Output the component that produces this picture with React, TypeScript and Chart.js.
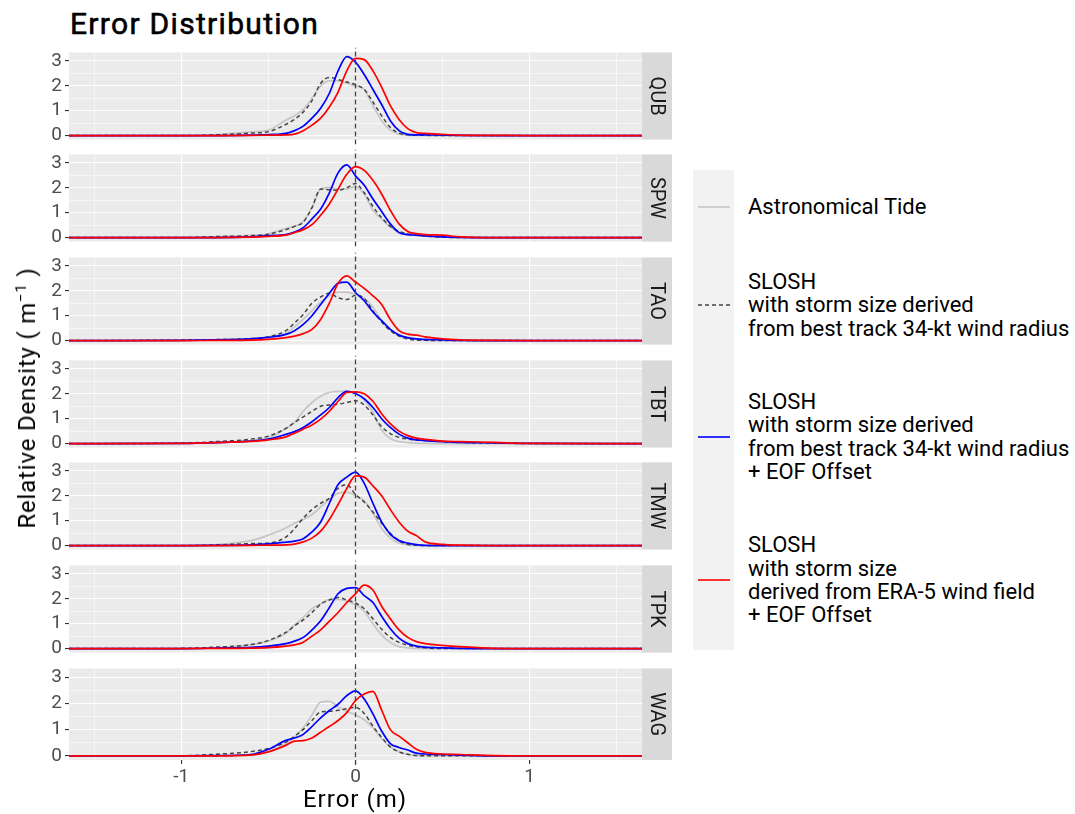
import React, { useEffect, useRef } from "react";
import { Chart, registerables } from "chart.js";
Chart.register(...registerables);

// ---------- data ----------
const ERROR_X = [-1.645, -1.0, -0.8, -0.6, -0.5, -0.4, -0.35, -0.3, -0.25, -0.2, -0.15, -0.1, -0.05, 0, 0.05, 0.1, 0.15, 0.2, 0.25, 0.3, 0.35, 0.4, 0.5, 0.6, 0.8, 1.0, 1.645];

const STATIONS = ["QUB", "SPW", "TAO", "TBT", "TMW", "TPK", "WAG"];

const QUB_TIDE = [0, 0, 0.04, 0.15, 0.22, 0.62, 0.8, 1.05, 1.5, 2.0, 2.2, 2.2, 2.1, 2.0, 1.85, 1.2, 0.6, 0.22, 0.06, 0.02, 0.01, 0, 0, 0, 0, 0, 0];
const QUB_SLOSH = [0, 0, 0.03, 0.1, 0.16, 0.45, 0.65, 0.95, 1.4, 2.1, 2.33, 2.25, 2.15, 2.04, 1.85, 1.35, 0.8, 0.33, 0.1, 0.03, 0.01, 0.01, 0, 0, 0, 0, 0];
const QUB_EOF = [0, 0, 0, 0.02, 0.04, 0.09, 0.2, 0.38, 0.7, 1.1, 1.7, 2.6, 3.17, 2.95, 2.45, 1.85, 1.25, 0.6, 0.2, 0.05, 0.03, 0.03, 0.02, 0.01, 0, 0, 0];
const QUB_ERA5 = [0, 0, 0, 0.01, 0.02, 0.03, 0.06, 0.2, 0.42, 0.7, 1.15, 1.75, 2.6, 3.1, 3.05, 2.6, 1.95, 1.2, 0.65, 0.28, 0.12, 0.09, 0.05, 0.02, 0.01, 0, 0];

const SPW_TIDE = [0, 0, 0.03, 0.09, 0.15, 0.37, 0.45, 0.65, 1.2, 1.95, 2.02, 1.95, 1.95, 2.05, 1.75, 1.1, 0.75, 0.42, 0.2, 0.12, 0.08, 0.05, 0.02, 0, 0, 0, 0];
const SPW_SLOSH = [0, 0, 0.04, 0.08, 0.14, 0.32, 0.45, 0.62, 1.2, 1.95, 1.92, 1.9, 2.0, 2.17, 1.8, 1.25, 0.8, 0.45, 0.25, 0.15, 0.1, 0.06, 0.02, 0, 0, 0, 0];
const SPW_EOF = [0, 0, 0, 0.03, 0.08, 0.12, 0.22, 0.4, 0.75, 1.15, 1.8, 2.6, 2.92, 2.48, 2.1, 1.55, 1.05, 0.55, 0.2, 0.12, 0.1, 0.07, 0.03, 0.01, 0, 0, 0];
const SPW_ERA5 = [0, 0, 0, 0.02, 0.05, 0.1, 0.2, 0.32, 0.52, 0.9, 1.35, 1.95, 2.54, 2.85, 2.7, 2.3, 1.75, 1.1, 0.55, 0.25, 0.16, 0.12, 0.1, 0.03, 0, 0, 0];

const TAO_TIDE = [0, 0.01, 0.03, 0.08, 0.15, 0.3, 0.55, 0.85, 1.2, 1.55, 1.8, 1.95, 1.95, 1.85, 1.7, 1.35, 0.8, 0.45, 0.22, 0.1, 0.04, 0.02, 0, 0, 0, 0, 0];
const TAO_SLOSH = [0, 0.02, 0.04, 0.08, 0.15, 0.4, 0.71, 1.05, 1.5, 1.75, 1.9, 1.72, 1.65, 1.82, 1.7, 1.2, 0.75, 0.4, 0.18, 0.06, 0.02, 0.01, 0, 0, 0, 0, 0];
const TAO_EOF = [0, 0.01, 0.03, 0.07, 0.13, 0.25, 0.4, 0.65, 1.0, 1.45, 1.9, 2.3, 2.35, 1.93, 1.6, 1.15, 0.8, 0.45, 0.22, 0.12, 0.07, 0.05, 0.03, 0.01, 0, 0, 0];
const TAO_ERA5 = [0, 0, 0.01, 0.02, 0.05, 0.12, 0.18, 0.28, 0.45, 0.85, 1.5, 2.3, 2.6, 2.35, 2.1, 1.8, 1.45, 0.85, 0.4, 0.26, 0.22, 0.15, 0.07, 0.03, 0.01, 0, 0];

const TBT_TIDE = [0, 0.01, 0.04, 0.12, 0.25, 0.6, 0.85, 1.3, 1.65, 1.9, 2.05, 2.1, 2.1, 2.0, 1.75, 1.25, 0.55, 0.2, 0.08, 0.04, 0.02, 0.01, 0, 0, 0, 0, 0];
const TBT_SLOSH = [0, 0.02, 0.08, 0.18, 0.3, 0.61, 0.85, 1.07, 1.3, 1.5, 1.55, 1.58, 1.65, 1.72, 1.55, 1.15, 0.68, 0.4, 0.25, 0.18, 0.14, 0.12, 0.08, 0.05, 0.02, 0, 0];
const TBT_EOF = [0, 0.01, 0.04, 0.1, 0.18, 0.37, 0.48, 0.65, 0.88, 1.15, 1.45, 1.85, 2.1, 2.01, 1.8, 1.45, 1.0, 0.65, 0.38, 0.22, 0.15, 0.12, 0.08, 0.05, 0.03, 0.01, 0];
const TBT_ERA5 = [0, 0.01, 0.04, 0.09, 0.15, 0.27, 0.42, 0.58, 0.75, 0.98, 1.3, 1.7, 2.05, 2.08, 2.0, 1.7, 1.2, 0.8, 0.5, 0.32, 0.22, 0.17, 0.1, 0.08, 0.05, 0.01, 0];

const TMW_TIDE = [0, 0, 0.04, 0.2, 0.42, 0.71, 0.9, 1.05, 1.25, 1.55, 1.85, 2.1, 2.15, 2.0, 1.8, 1.3, 0.7, 0.3, 0.1, 0.03, 0.01, 0, 0, 0, 0, 0, 0];
const TMW_SLOSH = [0, 0, 0.03, 0.08, 0.1, 0.34, 0.68, 1.1, 1.45, 1.7, 1.9, 2.3, 2.45, 2.05, 1.75, 1.35, 0.9, 0.5, 0.2, 0.05, 0.01, 0, 0, 0, 0, 0, 0];
const TMW_EOF = [0, 0, 0.01, 0.03, 0.07, 0.14, 0.18, 0.28, 0.55, 0.95, 1.7, 2.45, 2.75, 2.95, 2.5, 1.7, 0.95, 0.45, 0.2, 0.1, 0.04, 0.01, 0, 0, 0, 0, 0];
const TMW_ERA5 = [0, 0, 0, 0.01, 0.02, 0.03, 0.06, 0.15, 0.3, 0.58, 1.05, 1.65, 2.29, 2.8, 2.75, 2.4, 2.0, 1.45, 0.95, 0.58, 0.4, 0.15, 0.05, 0.02, 0, 0, 0];

const TPK_TIDE = [0, 0, 0.03, 0.16, 0.3, 0.62, 0.95, 1.25, 1.6, 1.8, 1.98, 1.98, 1.9, 1.77, 1.5, 1.0, 0.55, 0.25, 0.08, 0.03, 0.01, 0, 0, 0, 0, 0, 0];
const TPK_SLOSH = [0, 0.01, 0.06, 0.16, 0.33, 0.65, 0.91, 1.15, 1.45, 1.78, 1.95, 2.05, 1.95, 1.83, 1.6, 1.2, 0.78, 0.45, 0.25, 0.14, 0.07, 0.03, 0, 0, 0, 0, 0];
const TPK_EOF = [0, 0, 0.02, 0.05, 0.1, 0.2, 0.3, 0.45, 0.75, 1.12, 1.65, 2.2, 2.42, 2.45, 2.13, 1.85, 1.3, 0.8, 0.42, 0.2, 0.1, 0.06, 0.03, 0.01, 0, 0, 0];
const TPK_ERA5 = [0, 0, 0.01, 0.02, 0.04, 0.1, 0.15, 0.26, 0.5, 0.75, 1.1, 1.45, 1.85, 2.2, 2.55, 2.35, 1.7, 1.2, 0.75, 0.45, 0.28, 0.2, 0.13, 0.08, 0.01, 0, 0];

const WAG_TIDE = [0, 0, 0.01, 0.05, 0.16, 0.46, 0.71, 1.07, 1.56, 2.05, 2.08, 1.87, 1.7, 1.56, 1.38, 1.07, 0.65, 0.34, 0.16, 0.05, 0.01, 0, 0, 0, 0, 0, 0];
const WAG_SLOSH = [0, 0, 0.06, 0.16, 0.28, 0.52, 0.75, 1.01, 1.35, 1.68, 1.7, 1.74, 1.8, 1.85, 1.62, 1.13, 0.71, 0.34, 0.15, 0.06, 0.01, 0, 0, 0, 0, 0, 0];
const WAG_EOF = [0, 0, 0.01, 0.05, 0.25, 0.59, 0.68, 0.82, 1.12, 1.45, 1.73, 1.97, 2.3, 2.48, 2.17, 1.6, 0.95, 0.47, 0.32, 0.22, 0.1, 0.07, 0.05, 0.03, 0, 0, 0];
const WAG_ERA5 = [0, 0, 0, 0.03, 0.15, 0.4, 0.56, 0.58, 0.68, 0.9, 1.12, 1.35, 1.65, 2.11, 2.36, 2.46, 1.75, 1.0, 0.75, 0.5, 0.25, 0.13, 0.07, 0.05, 0.01, 0, 0];

const TIDE = [QUB_TIDE, SPW_TIDE, TAO_TIDE, TBT_TIDE, TMW_TIDE, TPK_TIDE, WAG_TIDE];
const SLOSH = [QUB_SLOSH, SPW_SLOSH, TAO_SLOSH, TBT_SLOSH, TMW_SLOSH, TPK_SLOSH, WAG_SLOSH];
const EOF = [QUB_EOF, SPW_EOF, TAO_EOF, TBT_EOF, TMW_EOF, TPK_EOF, WAG_EOF];
const ERA5 = [QUB_ERA5, SPW_ERA5, TAO_ERA5, TBT_ERA5, TMW_ERA5, TPK_ERA5, WAG_ERA5];

const X_TICKS = [-1.5, -1, -0.5, 0, 0.5, 1, 1.5];
const Y_TICKS = [0, 0.5, 1, 1.5, 2, 2.5, 3];
const X_MIN = -1.645;
const X_MAX = 1.645;
const Y_MIN = -0.16;
const Y_MAX = 3.34;
const ZERO_LINE_X = 0;

const LEGEND_LABELS = [
  ["Astronomical Tide"],
  ["SLOSH", "with storm size derived", "from best track 34-kt wind radius"],
  ["SLOSH", "with storm size derived", "from best track 34-kt wind radius", "+ EOF Offset"],
  ["SLOSH", "with storm size", "derived from ERA-5 wind field", "+ EOF Offset"],
];

// ---------- styling / layout ----------
const FONT = "Roboto, 'DejaVu Sans', sans-serif";
const PANEL_TOPS = [48, 150, 253, 356, 458, 561, 664];
const PANEL_H = 96;
const PAD = 10;
const CANVAS_W = 676;
const Y_AXIS_W = 69;
const STRIP_W = 30;
const RIGHT_PAD = 34;
const X_AXIS_H = 40;

const isInt = (v: number) => Math.abs(v - Math.round(v)) < 1e-9;

const panelPlugin = {
  id: "panelDeco",
  beforeDraw(chart: any) {
    const { ctx, chartArea } = chart;
    const { left, top, right, bottom } = chartArea;
    ctx.save();
    ctx.fillStyle = "#EBEBEB";
    ctx.fillRect(left, top, right - left, bottom - top);
    ctx.restore();
  },
  afterDraw(chart: any, _args: any, opts: any) {
    const { ctx, chartArea } = chart;
    const { right, top, bottom } = chartArea;
    ctx.save();
    ctx.fillStyle = "#D9D9D9";
    ctx.fillRect(right, top, STRIP_W, bottom - top);
    ctx.translate(right + STRIP_W / 2, (top + bottom) / 2);
    ctx.rotate(Math.PI / 2);
    ctx.fillStyle = "#1A1A1A";
    ctx.font = `20px ${FONT}`;
    ctx.textAlign = "center";
    ctx.textBaseline = "middle";
    ctx.fillText(opts.label, 0, 1);
    ctx.restore();
  },
};

const toPts = (vals: number[]) => ERROR_X.map((x, i) => ({ x, y: vals[i] }));

function Panel({ index }: { index: number }) {
  const ref = useRef<HTMLCanvasElement>(null);
  const isLast = index === STATIONS.length - 1;
  const h = PAD + PANEL_H + (isLast ? X_AXIS_H : PAD);

  useEffect(() => {
    if (!ref.current) return;
    const common = {
      pointRadius: 0,
      fill: false,
      cubicInterpolationMode: "monotone" as const,
    };
    const chart = new Chart(ref.current, {
      type: "line",
      data: {
        datasets: [
          {
            label: "zero",
            data: [
              { x: ZERO_LINE_X, y: Y_MIN - 0.2 },
              { x: ZERO_LINE_X, y: Y_MAX + 0.2 },
            ],
            borderColor: "#444444",
            borderWidth: 1.3,
            borderDash: [5, 3],
            pointRadius: 0,
            clip: { left: 0, right: 0, top: 5, bottom: 5 } as any,
            order: 0,
          },
          { ...common, label: "ERA5", data: toPts(ERA5[index]), borderColor: "#FF0000", borderWidth: 1.7, order: 1 },
          { ...common, label: "EOF", data: toPts(EOF[index]), borderColor: "#0000FF", borderWidth: 1.7, order: 2 },
          { ...common, label: "SLOSH", data: toPts(SLOSH[index]), borderColor: "#444444", borderWidth: 1.5, borderDash: [4, 3], order: 3 },
          { ...common, label: "Tide", data: toPts(TIDE[index]), borderColor: "#C6C6C6", borderWidth: 1.7, order: 4 },
        ],
      },
      options: {
        responsive: false,
        animation: false,
        events: [],
        layout: {
          autoPadding: false,
          padding: { top: PAD, bottom: isLast ? 0 : PAD, left: 0, right: RIGHT_PAD },
        },
        plugins: {
          legend: { display: false },
          tooltip: { enabled: false },
          panelDeco: { label: STATIONS[index] },
        } as any,
        scales: {
          x: {
            type: "linear",
            min: X_MIN,
            max: X_MAX,
            afterBuildTicks: (s: any) => {
              s.ticks = X_TICKS.map((v) => ({ value: v }));
            },
            afterFit: (s: any) => {
              s.height = isLast ? X_AXIS_H : 0;
            },
            border: { display: false },
            grid: {
              color: "#FFFFFF",
              lineWidth: (c: any) => (isInt(c.tick?.value ?? 0) ? 1.1 : 0.55),
              drawTicks: isLast,
              tickLength: 4,
              tickColor: (c: any) => (isInt(c.tick?.value ?? 0) ? "#333333" : "rgba(0,0,0,0)"),
            },
            ticks: {
              display: isLast,
              autoSkip: false,
              maxRotation: 0,
              padding: 2,
              color: "#4D4D4D",
              font: { family: FONT, size: 19 },
              callback: (v: any) => (isInt(Number(v)) ? String(Number(v)) : ""),
            },
          },
          y: {
            type: "linear",
            min: Y_MIN,
            max: Y_MAX,
            afterBuildTicks: (s: any) => {
              s.ticks = Y_TICKS.map((v) => ({ value: v }));
            },
            afterFit: (s: any) => {
              s.width = Y_AXIS_W;
            },
            border: { display: false },
            grid: {
              color: "#FFFFFF",
              lineWidth: (c: any) => (isInt(c.tick?.value ?? 0) ? 1.1 : 0.55),
              drawTicks: true,
              tickLength: 4,
              tickColor: (c: any) => (isInt(c.tick?.value ?? 0) ? "#333333" : "rgba(0,0,0,0)"),
            },
            ticks: {
              autoSkip: false,
              padding: 3,
              color: "#4D4D4D",
              font: { family: FONT, size: 19 },
              callback: (v: any) => (isInt(Number(v)) ? String(Number(v)) : ""),
            },
          },
        },
      },
      plugins: [panelPlugin as any],
    });
    return () => chart.destroy();
  }, [index]);

  return (
    <canvas
      ref={ref}
      width={CANVAS_W}
      height={h}
      style={{ position: "absolute", left: 0, top: PANEL_TOPS[index] - PAD, width: CANVAS_W, height: h, display: "block" }}
    />
  );
}

const LEGEND_FIRST_LINE_Y = [207, 281.7, 401.7, 545];
const LINE_H = 23.3;

function LegendKey({ kind, y }: { kind: number; y: number }) {
  const stroke = ["#C6C6C6", "#444444", "#0000FF", "#FF0000"][kind];
  return (
    <svg style={{ position: "absolute", left: 697, top: y - 5, width: 34, height: 10 }} width={34} height={10}>
      <line x1={1} y1={5} x2={33} y2={5} stroke={stroke} strokeWidth={1.6} strokeDasharray={kind === 1 ? "4 3" : undefined} />
    </svg>
  );
}

export default function App() {
  return (
    <div
      style={{
        position: "absolute",
        left: 0,
        top: 0,
        width: 1075,
        height: 814,
        background: "#FFFFFF",
        overflow: "hidden",
        fontFamily: FONT,
      }}
    >
      <div
        style={{
          position: "absolute",
          left: 70,
          top: 8.7,
          fontSize: 30,
          lineHeight: "30px",
          fontWeight: 400,
          letterSpacing: 1.3,
          color: "#000",
          whiteSpace: "nowrap",
          WebkitTextStroke: "0.6px #000",
        }}
      >
        Error Distribution
      </div>

      {STATIONS.map((s, i) => (
        <Panel key={s} index={i} />
      ))}

      <div
        style={{
          position: "absolute",
          left: 27,
          top: 398,
          fontSize: 24,
          lineHeight: "24px",
          letterSpacing: 0.8,
          color: "#000",
          whiteSpace: "nowrap",
          transform: "translate(-50%, -50%) rotate(-90deg)",
          transformOrigin: "center",
          width: "max-content",
        }}
      >
        Relative Density ( m<sup style={{ fontSize: 15, verticalAlign: "super", lineHeight: 0 }}>−1</sup> )
      </div>

      <div
        style={{
          position: "absolute",
          left: 355,
          top: 787,
          fontSize: 24,
          lineHeight: "24px",
          letterSpacing: 1,
          color: "#000",
          whiteSpace: "nowrap",
          transform: "translateX(-50%)",
        }}
      >
        Error (m)
      </div>

      <div style={{ position: "absolute", left: 693, top: 170, width: 41, height: 480, background: "#F2F2F2" }} />
      {LEGEND_LABELS.map((lines, k) => {
        const y0 = LEGEND_FIRST_LINE_Y[k];
        const keyY = y0 + ((lines.length - 1) * LINE_H) / 2;
        return (
          <React.Fragment key={k}>
            <LegendKey kind={k} y={keyY} />
            <div
              style={{
                position: "absolute",
                left: 748,
                top: y0 - LINE_H / 2,
                fontSize: 22,
                lineHeight: `${LINE_H}px`,
                color: "#000",
                whiteSpace: "nowrap",
              }}
            >
              {lines.map((t, j) => (
                <div key={j}>{t}</div>
              ))}
            </div>
          </React.Fragment>
        );
      })}
    </div>
  );
}
